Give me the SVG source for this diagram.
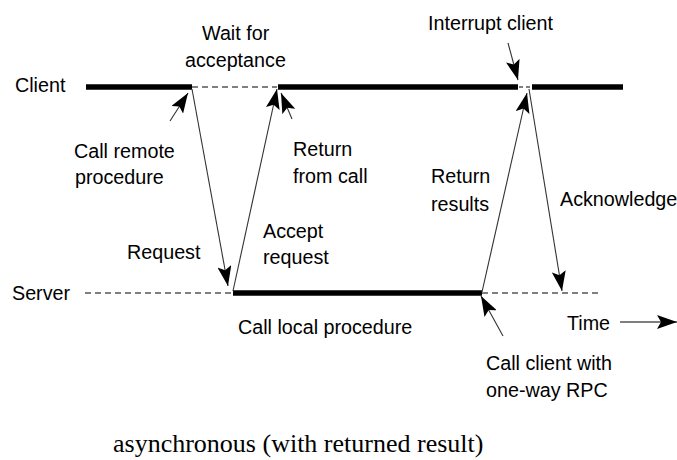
<svg xmlns="http://www.w3.org/2000/svg" width="677" height="460" viewBox="0 0 677 460">
  <style>
    .lbl { font-family: "Liberation Sans", Arial, sans-serif; font-size: 21px; fill: #000; }
    .cap { font-family: "Liberation Serif", "Times New Roman", serif; font-size: 26px; fill: #000; }
    .thick { stroke: #000; stroke-width: 5.5; fill: none; }
    .dash { stroke: #000; stroke-width: 1.2; stroke-dasharray: 6 4; fill: none; }
    .msg { stroke: #333; stroke-width: 1.1; fill: none; marker-end: url(#head); }
  </style>
  <defs>
    <!-- notched solid arrowhead shared by every message line -->
    <marker id="head" viewBox="0 0 20 14" markerWidth="20" markerHeight="14" refX="20" refY="7" orient="auto" markerUnits="userSpaceOnUse">
      <path d="M0,0 L20,7 L0,14 L4,7 z" fill="#000"/>
    </marker>
  </defs>

  <rect width="677" height="460" fill="#fff"/>

  <!-- Client timeline -->
  <g id="client">
    <text class="lbl" transform="translate(15 92) scale(0.94 1)">Client</text>
    <line class="thick" x1="86" y1="87" x2="192" y2="87"/>
    <line class="dash" x1="192" y1="87" x2="277" y2="87"/>
    <line class="thick" x1="278" y1="87" x2="518" y2="87"/>
    <line class="dash" x1="519" y1="87" x2="531" y2="87" style="stroke-dasharray:4 3"/>
    <line class="thick" x1="532" y1="87" x2="623" y2="87"/>
  </g>

  <!-- Server timeline -->
  <g id="server">
    <text class="lbl" transform="translate(12 300) scale(0.94 1)">Server</text>
    <line class="dash" x1="85" y1="293" x2="233" y2="293"/>
    <line class="thick" x1="233" y1="293" x2="482" y2="293"/>
    <line class="dash" x1="482" y1="293" x2="602" y2="293"/>
  </g>

  <!-- Messages and pointers -->
  <g id="connectors">
    <line class="msg" x1="192" y1="89" x2="228" y2="286"/>
    <line class="msg" x1="233" y1="291" x2="277" y2="89"/>
    <line class="msg" x1="292" y1="119" x2="281" y2="93"/>
    <line class="msg" x1="170" y1="121" x2="188" y2="93"/>
    <line class="msg" x1="508" y1="43" x2="518" y2="80"/>
    <line class="msg" x1="482" y1="292" x2="527" y2="93"/>
    <line class="msg" x1="529" y1="89" x2="562" y2="291"/>
    <line class="msg" x1="503" y1="336" x2="481" y2="296"/>
    <line class="msg" x1="620" y1="322" x2="677" y2="322" style="stroke:#000"/>
  </g>

  <!-- Labels -->
  <g id="wait-for-acceptance">
    <text class="lbl" transform="translate(202 40) scale(0.94 1)">Wait for</text>
    <text class="lbl" transform="translate(185 67) scale(0.94 1)">acceptance</text>
  </g>
  <g id="call-remote-procedure">
    <text class="lbl" transform="translate(74 158) scale(0.94 1)">Call remote</text>
    <text class="lbl" transform="translate(75 184) scale(0.94 1)">procedure</text>
  </g>
  <g id="return-from-call">
    <text class="lbl" transform="translate(293 156) scale(0.94 1)">Return</text>
    <text class="lbl" transform="translate(293 183) scale(0.94 1)">from call</text>
  </g>
  <g id="interrupt-client">
    <text class="lbl" transform="translate(428 30) scale(0.94 1)">Interrupt client</text>
  </g>
  <g id="return-results">
    <text class="lbl" transform="translate(431 183) scale(0.94 1)">Return</text>
    <text class="lbl" transform="translate(431 211) scale(0.94 1)">results</text>
  </g>
  <g id="acknowledge">
    <text class="lbl" transform="translate(560 206) scale(0.94 1)">Acknowledge</text>
  </g>
  <g id="request">
    <text class="lbl" transform="translate(127 259) scale(0.94 1)">Request</text>
  </g>
  <g id="accept-request">
    <text class="lbl" transform="translate(263 238) scale(0.94 1)">Accept</text>
    <text class="lbl" transform="translate(263 264) scale(0.94 1)">request</text>
  </g>
  <g id="call-local-procedure">
    <text class="lbl" transform="translate(238 334) scale(0.94 1)">Call local procedure</text>
  </g>
  <g id="time">
    <text class="lbl" transform="translate(567 330) scale(0.94 1)">Time</text>
  </g>
  <g id="call-client-rpc">
    <text class="lbl" transform="translate(486 370) scale(0.94 1)">Call client with</text>
    <text class="lbl" transform="translate(486 397) scale(0.94 1)">one-way RPC</text>
  </g>

  <text class="cap" x="113" y="452">asynchronous (with returned result)</text>
</svg>
